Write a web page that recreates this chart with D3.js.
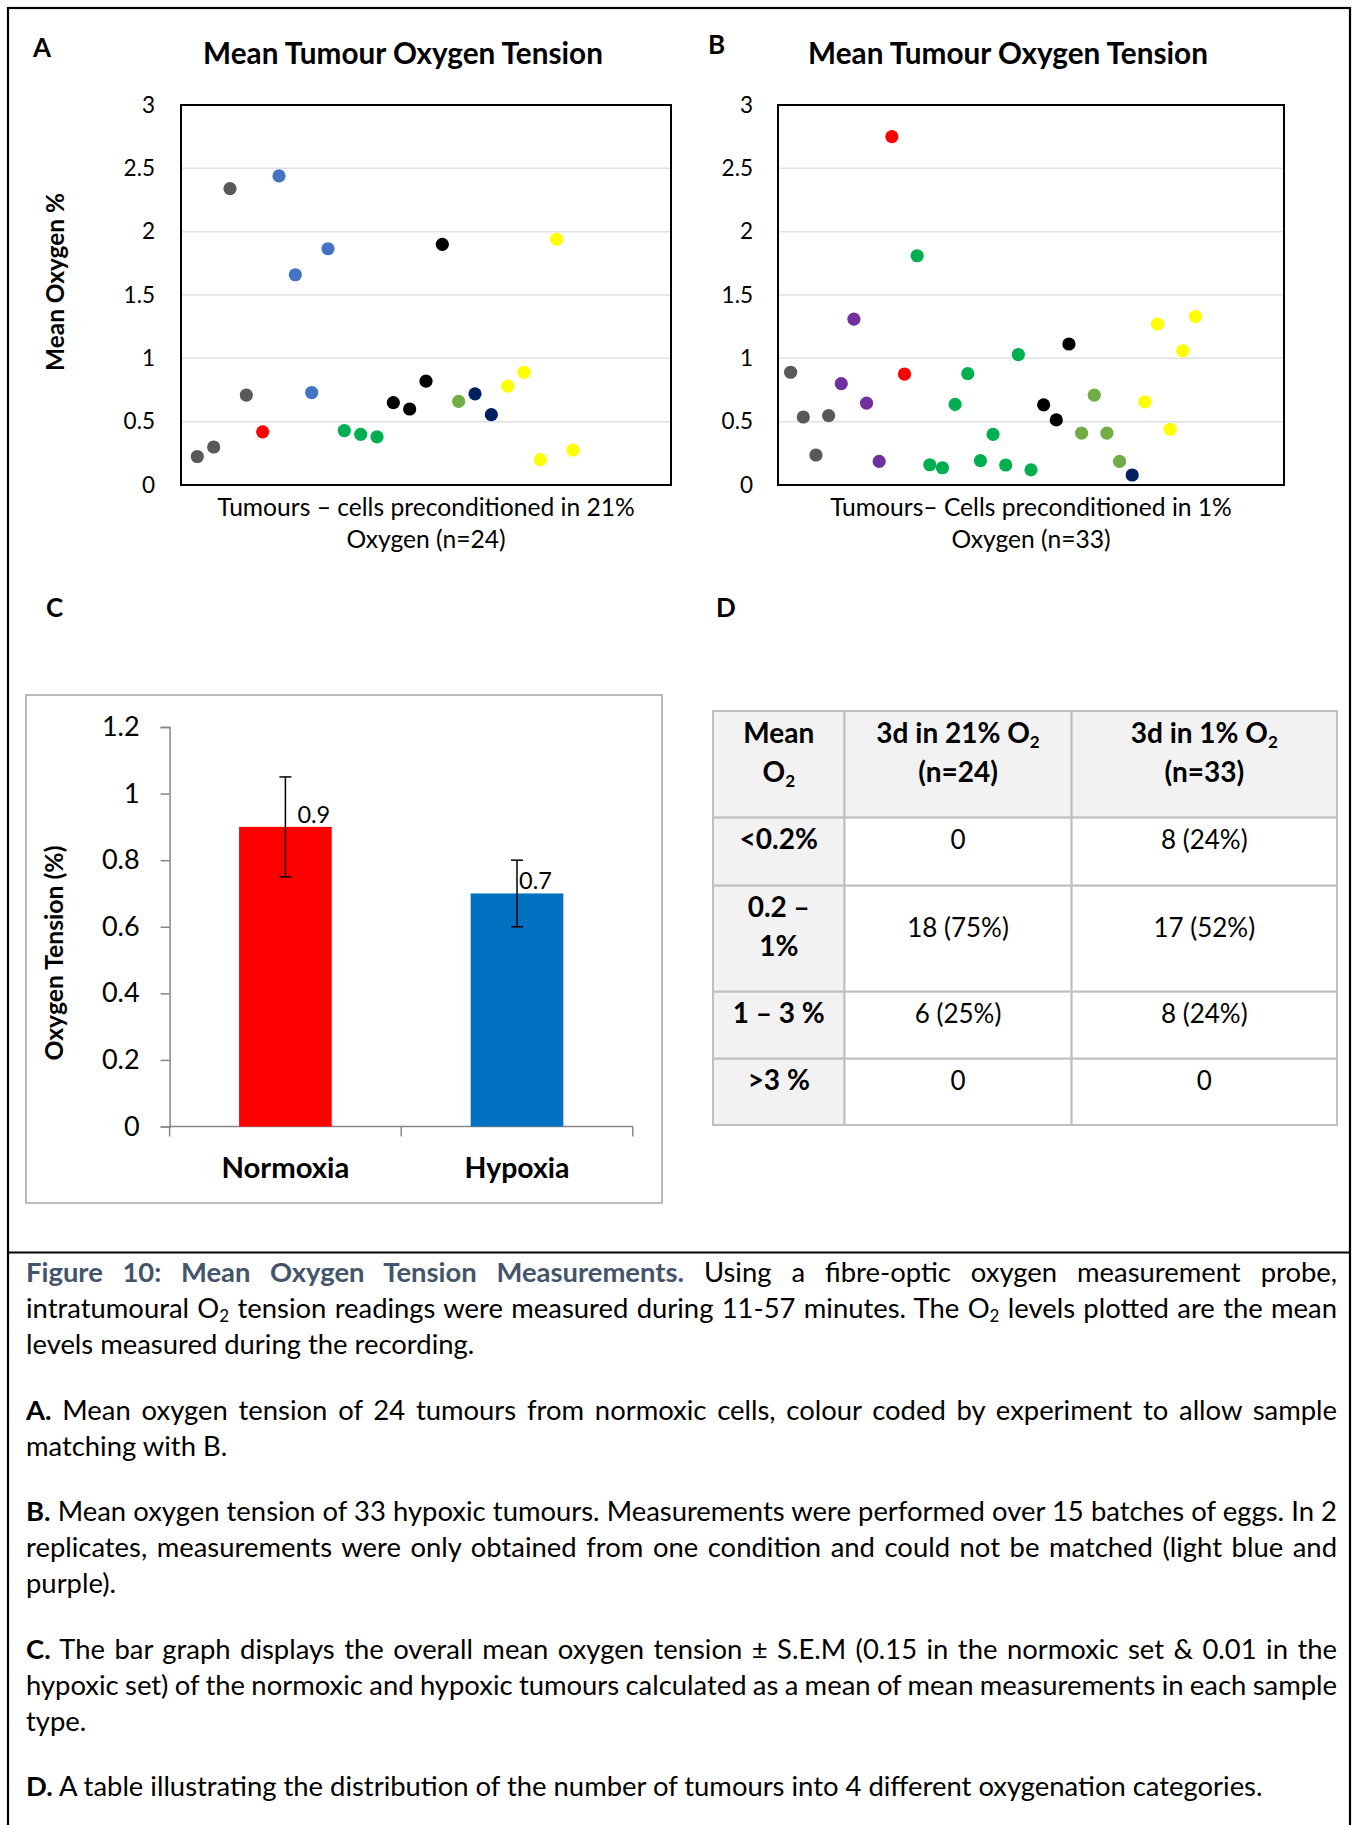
<!DOCTYPE html>
<html>
<head>
<meta charset="utf-8">
<script src="https://cdn.jsdelivr.net/npm/d3@7"></script>
<style>
  body { margin: 0; background: #fff; }
  #fig { position: relative; width: 1357px; height: 1825px; overflow: hidden; font-family: Lato, "Noto Sans", sans-serif; }
  #fig svg { position: absolute; left: 0; top: 0; }
  #caption { position: absolute; left: 26px; width: 1311px; font-size: 25px; line-height: 36px; color: #000; }
  #caption .para { margin-bottom: 29.5px; }
  #caption .line { white-space: nowrap; }
  #caption .fig { color: #44546a; }
  sub { font-size: 0.62em; line-height: 0; vertical-align: -0.22em; }
</style>
</head>
<body>
<div id="fig"><div id="caption"></div></div>
<script>
// panel A – 21% O2 preconditioned tumours, in plotting order
const tumoursA = [0.225, 0.30, 2.34, 0.71, 0.42, 2.44, 1.66, 0.73, 1.865, 0.43, 0.40, 0.38,
  0.65, 0.60, 0.82, 1.90, 0.66, 0.72, 0.555, 0.78, 0.89, 0.20, 1.94, 0.275];
const batchA = ["grey", "grey", "grey", "grey", "red", "blue", "blue", "blue", "blue", "green", "green", "green",
  "black", "black", "black", "black", "olive", "navy", "navy", "yellow", "yellow", "yellow", "yellow", "yellow"];

// panel B – 1% O2 preconditioned tumours
const tumoursB = [0.89, 0.537, 0.237, 0.548, 0.80, 1.31, 0.647, 0.186, 2.75, 0.876, 1.81, 0.16, 0.136,
  0.636, 0.879, 0.192, 0.40, 0.158, 1.03, 0.12, 0.633, 0.514, 1.113, 0.41, 0.71, 0.41, 0.186, 0.079,
  0.657, 1.27, 0.44, 1.06, 1.33];
const batchB = ["grey", "grey", "grey", "grey", "purple", "purple", "purple", "purple", "red", "red",
  "green", "green", "green", "green", "green", "green", "green", "green", "green", "green",
  "black", "black", "black", "olive", "olive", "olive", "olive", "navy",
  "yellow", "yellow", "yellow", "yellow", "yellow"];

const scatterTicks = [0, 0.5, 1, 1.5, 2, 2.5, 3];

// panel C
const groups = ["Normoxia", "Hypoxia"];
const groupMeans = [0.9, 0.7];
const groupSem = [0.15, 0.1];
const barTicks = [0, 0.2, 0.4, 0.6, 0.8, 1, 1.2];

// panel D
const tableHead = [["Mean", "O₂"], ["3d in 21% O₂", "(n=24)"], ["3d in 1% O₂", "(n=33)"]];
const ranges = [["<0.2%"], ["0.2 –", "1%"], ["1 – 3 %"], [">3 %"]];
const countsNormoxic = ["0", "18 (75%)", "6 (25%)", "0"];
const countsHypoxic = ["8 (24%)", "17 (52%)", "8 (24%)", "0"];

const batchColor = {
  grey: "#595959", red: "#ff0000", blue: "#4472c4", green: "#00b050", black: "#000000",
  olive: "#70ad47", navy: "#002060", yellow: "#ffff00", purple: "#7030a0"
};
const barColors = ["#ff0000", "#0070c0"];

const W = 1357, H = 1825;
const svg = d3.select("#fig").insert("svg", "#caption")
  .attr("width", W).attr("height", H)
  .attr("font-family", "Lato, 'Noto Sans', sans-serif");

// fit a text element to a target width by scaling its font size
function fitWidth(text, target) {
  const w = text.node().getComputedTextLength();
  const fs = parseFloat(text.attr("font-size"));
  text.attr("font-size", fs * target / w);
  return fs * target / w;
}

// outer frame + separator above caption
svg.append("rect").attr("x", 8).attr("y", 8).attr("width", 1342).attr("height", 1840)
  .attr("fill", "none").attr("stroke", "#000").attr("stroke-width", 2.2);
svg.append("line").attr("x1", 8).attr("x2", 1350).attr("y1", 1252.5).attr("y2", 1252.5)
  .attr("stroke", "#000").attr("stroke-width", 2.2);

function panelLabel(txt, x, y) {
  svg.append("text").attr("x", x).attr("y", y)
    .attr("font-size", 26).attr("font-weight", "bold").text(txt);
}
panelLabel("A", 33, 57);
panelLabel("B", 708, 54);
panelLabel("C", 46, 617);
panelLabel("D", 716, 617);

function scatter(values, batches, xMax, box) {
  const g = svg.append("g");
  const x = d3.scaleLinear().domain([0, xMax]).range([box.x0, box.x1]);
  const y = d3.scaleLinear().domain([0, 3]).range([box.y1, box.y0]);

  g.append("g").selectAll("line")
    .data(scatterTicks.slice(1, -1))
    .join("line")
    .attr("x1", box.x0).attr("x2", box.x1)
    .attr("y1", d => y(d)).attr("y2", d => y(d))
    .attr("stroke", "#dde1e7").attr("stroke-width", 1.5);

  const ax = g.append("g")
    .attr("transform", `translate(${box.x0},0)`)
    .call(d3.axisLeft(y).tickValues(scatterTicks).tickSize(0).tickPadding(box.pad).tickFormat(d3.format("~g")));
  ax.select(".domain").remove();
  ax.selectAll("text").attr("font-size", 22.5).attr("font-family", "Lato, sans-serif").attr("fill", "#000");

  g.append("rect")
    .attr("x", box.x0).attr("y", box.y0)
    .attr("width", box.x1 - box.x0).attr("height", box.y1 - box.y0)
    .attr("fill", "none").attr("stroke", "#000").attr("stroke-width", 2);

  g.append("g").selectAll("circle")
    .data(values)
    .join("circle")
    .attr("cx", (d, i) => x(i + 1))
    .attr("cy", d => y(d))
    .attr("r", 6.6)
    .attr("fill", (d, i) => batchColor[batches[i]]);

  const title = g.append("text")
    .attr("x", box.titleX).attr("y", 63.5)
    .attr("text-anchor", "middle").attr("font-size", 25).attr("font-weight", "bold")
    .text("Mean Tumour Oxygen Tension");
  fitWidth(title, 400);

  const l1 = g.append("text")
    .attr("x", box.labelX).attr("y", 516)
    .attr("text-anchor", "middle").attr("font-size", 22)
    .text(box.label[0]);
  const fs = fitWidth(l1, box.labelW);
  g.append("text")
    .attr("x", box.labelX).attr("y", 548)
    .attr("text-anchor", "middle").attr("font-size", fs)
    .text(box.label[1]);
  return g;
}

scatter(tumoursA, batchA, 30, {
  x0: 181, x1: 671, y0: 105, y1: 485, pad: 26, titleX: 403,
  labelX: 426, labelW: 418, label: ["Tumours – cells preconditioned in 21%", "Oxygen (n=24)"]
});
scatter(tumoursB, batchB, 40, {
  x0: 778, x1: 1284, y0: 105, y1: 485, pad: 25, titleX: 1008,
  labelX: 1031, labelW: 402, label: ["Tumours– Cells preconditioned in 1%", "Oxygen (n=33)"]
});

const yLabA = svg.append("text")
  .attr("transform", "translate(64,282) rotate(-90)")
  .attr("text-anchor", "middle").attr("font-size", 22).attr("font-weight", "bold")
  .text("Mean Oxygen %");
fitWidth(yLabA, 178);

// panel C: bar chart with S.E.M error bars
{
  const g = svg.append("g");
  g.append("rect").attr("x", 26).attr("y", 695).attr("width", 636).attr("height", 508)
    .attr("fill", "#fff").attr("stroke", "#a6a6a6").attr("stroke-width", 1.5);

  const x = d3.scaleBand().domain(groups).range([169.6, 632.8]).paddingInner(0.6).paddingOuter(0.3);
  const y = d3.scaleLinear().domain([0, 1.2]).range([1126.5, 727]);

  const ay = g.append("g").attr("transform", "translate(169.6,0)")
    .call(d3.axisLeft(y).tickValues(barTicks).tickSize(9).tickPadding(21).tickFormat(d3.format("~g")));
  ay.selectAll("line, path").attr("stroke", "#868686").attr("stroke-width", 1.5);
  ay.selectAll("text").attr("font-size", 27).attr("font-family", "Lato, sans-serif").attr("fill", "#000");

  g.append("line").attr("x1", 169.6).attr("x2", 632.8).attr("y1", y(0)).attr("y2", y(0))
    .attr("stroke", "#868686").attr("stroke-width", 1.5);
  g.append("g").selectAll("line")
    .data(d3.range(groups.length + 1))
    .join("line")
    .attr("x1", i => 169.6 + i * x.step()).attr("x2", i => 169.6 + i * x.step())
    .attr("y1", y(0)).attr("y2", y(0) + 10)
    .attr("stroke", "#868686").attr("stroke-width", 1.5);

  g.append("g").selectAll("rect")
    .data(groupMeans)
    .join("rect")
    .attr("x", (d, i) => x(groups[i]))
    .attr("y", d => y(d))
    .attr("width", x.bandwidth())
    .attr("height", d => y(0) - y(d))
    .attr("fill", (d, i) => barColors[i]);

  const err = g.append("g").attr("stroke", "#000").attr("stroke-width", 1.5);
  groupMeans.forEach((m, i) => {
    const cx = x(groups[i]) + x.bandwidth() / 2;
    const lo = y(m - groupSem[i]), hi = y(m + groupSem[i]);
    err.append("line").attr("x1", cx).attr("x2", cx).attr("y1", lo).attr("y2", hi);
    err.append("line").attr("x1", cx - 6).attr("x2", cx + 6).attr("y1", lo).attr("y2", lo);
    err.append("line").attr("x1", cx - 6).attr("x2", cx + 6).attr("y1", hi).attr("y2", hi);
  });

  const labelDx = [12, 2];
  g.append("g").selectAll("text")
    .data(groupMeans)
    .join("text")
    .attr("x", (d, i) => x(groups[i]) + x.bandwidth() / 2 + labelDx[i])
    .attr("y", d => y(d) - 4)
    .attr("font-size", 23.5)
    .text(d => d3.format("~g")(d));

  g.append("g").selectAll("text")
    .data(groups)
    .join("text")
    .attr("x", d => x(d) + x.bandwidth() / 2)
    .attr("y", 1178)
    .attr("text-anchor", "middle").attr("font-size", 28).attr("font-weight", "bold")
    .text(d => d)
    .each(function (d, i) { fitWidth(d3.select(this), [128, 105][i]); });

  const yl = g.append("text")
    .attr("transform", "translate(63,953) rotate(-90)")
    .attr("text-anchor", "middle").attr("font-size", 21).attr("font-weight", "bold")
    .text("Oxygen Tension (%)");
  fitWidth(yl, 215);
}

// panel D: oxygenation categories table
{
  const colEdges = [713, 844.5, 1071.6, 1337];
  const rowEdges = [711, 817.6, 885.7, 991.7, 1058.7, 1125];
  const rows = [tableHead].concat(ranges.map((r, i) => [r, [countsNormoxic[i]], [countsHypoxic[i]]]));
  const g = svg.append("g");
  const cells = [];
  rows.forEach((row, r) => {
    const maxLines = d3.max(row, c => c.length);
    row.forEach((lines, c) => cells.push({ r, c, lines, maxLines, bold: r === 0 || c === 0 }));
  });

  g.selectAll("rect")
    .data(cells)
    .join("rect")
    .attr("x", d => colEdges[d.c]).attr("y", d => rowEdges[d.r])
    .attr("width", d => colEdges[d.c + 1] - colEdges[d.c])
    .attr("height", d => rowEdges[d.r + 1] - rowEdges[d.r])
    .attr("fill", d => d.bold ? "#f2f2f2" : "#fff")
    .attr("stroke", "#bfbfbf").attr("stroke-width", 2);

  const txt = g.selectAll("text.cell")
    .data(cells)
    .join("text")
    .attr("class", "cell")
    .attr("text-anchor", "middle")
    .attr("font-size", d => d.bold ? 28 : 26)
    .attr("font-weight", d => d.bold ? "bold" : "normal");

  txt.each(function (d) {
    const cx = (colEdges[d.c] + colEdges[d.c + 1]) / 2;
    const top = rowEdges[d.r] + 31.5 + (d.maxLines - d.lines.length) * 19.5;
    const t = d3.select(this);
    d.lines.forEach((line, k) => {
      const parts = line.split("₂");
      t.append("tspan").attr("x", cx).attr("y", top + k * 39).text(parts[0]);
      if (parts.length > 1) {
        t.append("tspan").attr("font-size", 17).attr("dy", 5).text("2");
        t.append("tspan").attr("dy", -5).text(parts[1]);
      }
    });
  });
}

// caption
const captionParas = [
  [["<b class='fig'>Figure 10: Mean Oxygen Tension Measurements.</b> Using a fibre-optic oxygen measurement probe,", true],
   ["intratumoural O<sub>2</sub> tension readings were measured during 11-57 minutes. The O<sub>2</sub> levels plotted are the mean", true],
   ["levels measured during the recording.", false]],
  [["<b>A.</b> Mean oxygen tension of 24 tumours from normoxic cells, colour coded by experiment to allow sample", true],
   ["matching with B.", false]],
  [["<b>B.</b> Mean oxygen tension of 33 hypoxic tumours. Measurements were performed over 15 batches of eggs. In 2", true],
   ["replicates, measurements were only obtained from one condition and could not be matched (light blue and", true],
   ["purple).", false]],
  [["<b>C.</b> The bar graph displays the overall mean oxygen tension ± S.E.M (0.15 in the normoxic set &amp; 0.01 in the", true],
   ["hypoxic set) of the normoxic and hypoxic tumours calculated as a mean of mean measurements in each sample", true],
   ["type.", false]],
  [["<b>D.</b> A table illustrating the distribution of the number of tumours into 4 different oxygenation categories.", false]]
];

const cap = d3.select("#caption");
const lines = cap.selectAll("div.para")
  .data(captionParas)
  .join("div").attr("class", "para")
  .selectAll("div.line")
  .data(d => d)
  .join("div").attr("class", "line")
  .html(d => `<span>${d[0]}</span>`);

// size the caption font so the last (unjustified) line spans its original width
const lastSpan = lines.filter(d => d[0].startsWith("<b>D.")).select("span").node();
const fs = 25 * 1237 / lastSpan.getBoundingClientRect().width;
cap.style("font-size", fs + "px")
  .style("top", (1283 - (36 - 1.2 * fs) / 2 - 0.987 * fs) + "px");

// justify the full lines by spreading the word gaps
lines.each(function (d) {
  if (!d[1]) return;
  const span = this.querySelector("span");
  const w = span.getBoundingClientRect().width;
  const gaps = (span.textContent.match(/ /g) || []).length;
  d3.select(this).style("word-spacing", ((1311 - w) / gaps) + "px");
});
</script>
</body>
</html>
